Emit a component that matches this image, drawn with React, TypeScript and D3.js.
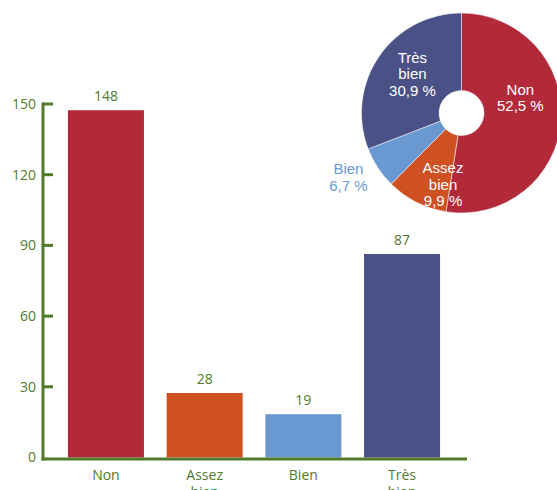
import { useRef, useEffect } from "react";
import * as d3 from "d3";

const CATEGORIES = ["Non", "Assez bien", "Bien", "Très bien"];
const COUNTS = [148, 28, 19, 87];
const PERCENT_LABELS = ["52,5 %", "9,9 %", "6,7 %", "30,9 %"];
const Y_TICKS = [0, 30, 60, 90, 120, 150];

const COLORS = ["#b22a3a", "#cf5122", "#6a99d1", "#4a5186"];
const GREEN = "#527a2a";
const FONT = "'Open Sans', sans-serif";
const PIE_FONT = "'Liberation Sans', Arial, sans-serif";
const WIDTH = 557;
const HEIGHT = 490;

// manual nudges for the pie labels (designer placed them by hand)
const PIE_LABEL_LAYOUT = [
  { r: 60, dx: -1, dy: -20, color: "#fff" },
  { r: 72, dx: 14, dy: 7, color: "#fff" },
  { r: 128, dx: -6, dy: -6, color: COLORS[2] },
  { r: 62, dx: 2, dy: -4, color: "#fff" },
];

export default function App() {
  const svgRef = useRef<SVGSVGElement>(null);

  useEffect(() => {
    const svg = svgRef.current;
    if (!svg) return;
    const root = d3.select(svg);
    root.selectAll("*").remove();

    // ---- bar chart ----
    const axisX = 43;
    const axisY = 459;
    const x = d3
      .scaleBand<string>()
      .domain(CATEGORIES)
      .range([56.6, 451.4])
      .paddingInner(0.23)
      .paddingOuter(0.115);
    const y = d3.scaleLinear().domain([0, 150]).range([457.5, 104]);

    const g = root.append("g");

    g.selectAll("rect.bar")
      .data(COUNTS)
      .join("rect")
      .attr("class", "bar")
      .attr("x", (_, i) => x(CATEGORIES[i])!)
      .attr("y", (d) => y(d) + 1.5)
      .attr("width", x.bandwidth())
      .attr("height", (d) => y(0) - y(d) - 1.5)
      .attr("fill", (_, i) => COLORS[i]);

    // value labels
    g.selectAll("text.val")
      .data(COUNTS)
      .join("text")
      .attr("class", "val")
      .attr("x", (_, i) => x(CATEGORIES[i])! + x.bandwidth() / 2)
      .attr("y", (d) => y(d) - 12.5)
      .attr("dy", "0.35em")
      .attr("text-anchor", "middle")
      .attr("fill", GREEN)
      .attr("font-family", FONT)
      .attr("font-size", 14)
      .text((d) => d.toString());

    // y axis
    g.append("line")
      .attr("x1", axisX)
      .attr("x2", axisX)
      .attr("y1", y(150) - 1.5)
      .attr("y2", axisY + 1.5)
      .attr("stroke", GREEN)
      .attr("stroke-width", 3);
    for (const t of Y_TICKS) {
      if (t > 0) {
        g.append("line")
          .attr("x1", axisX)
          .attr("x2", 53)
          .attr("y1", y(t))
          .attr("y2", y(t))
          .attr("stroke", GREEN)
          .attr("stroke-width", 3);
      }
      g.append("text")
        .attr("x", 36)
        .attr("y", t === 0 ? axisY - 2 : y(t))
        .attr("dy", "0.35em")
        .attr("text-anchor", "end")
        .attr("fill", GREEN)
        .attr("font-family", FONT)
        .attr("font-size", 14)
        .text(t.toString());
    }

    // x axis
    g.append("line")
      .attr("x1", axisX - 1.5)
      .attr("x2", 467)
      .attr("y1", axisY)
      .attr("y2", axisY)
      .attr("stroke", GREEN)
      .attr("stroke-width", 3);

    CATEGORIES.forEach((c) => {
      const words = c.split(" ");
      const cxl = x(c)! + x.bandwidth() / 2;
      const t = g
        .append("text")
        .attr("text-anchor", "middle")
        .attr("fill", GREEN)
        .attr("font-family", FONT)
        .attr("font-size", 14);
      words.forEach((w, wi) => {
        t.append("tspan")
          .attr("x", cxl)
          .attr("y", 475 + wi * 17)
          .attr("dy", "0.35em")
          .text(w);
      });
    });

    // ---- pie ----
    const cx = 461.5;
    const cy = 113;
    const pg = root.append("g").attr("transform", `translate(${cx},${cy})`);
    const pie = d3.pie<number>().sort(null).value((d) => d);
    const arcs = pie(COUNTS);
    const arc = d3.arc<d3.PieArcDatum<number>>().innerRadius(22.5).outerRadius(100);

    pg.selectAll("path")
      .data(arcs)
      .join("path")
      .attr("d", arc)
      .attr("fill", (_, i) => COLORS[i])
      .attr("stroke", "#fff")
      .attr("stroke-width", 0.5);

    arcs.forEach((a, i) => {
      const lay = PIE_LABEL_LAYOUT[i];
      const mid = (a.startAngle + a.endAngle) / 2;
      const lx = Math.sin(mid) * lay.r + lay.dx;
      const ly = -Math.cos(mid) * lay.r + lay.dy;
      const lines = [...CATEGORIES[i].split(" "), PERCENT_LABELS[i]];
      const t = pg
        .append("text")
        .attr("text-anchor", "middle")
        .attr("fill", lay.color)
        .attr("font-family", PIE_FONT)
        .attr("font-size", 15);
      const lh = 16.5;
      const top = ly - ((lines.length - 1) * lh) / 2;
      lines.forEach((l, li) => {
        t.append("tspan")
          .attr("x", lx)
          .attr("y", top + li * lh)
          .attr("dy", "0.35em")
          .text(l);
      });
    });
  }, []);

  return (
    <div style={{ position: "fixed", left: 0, top: 0, width: WIDTH, height: HEIGHT, background: "#fff" }}>
      <svg ref={svgRef} width={WIDTH} height={HEIGHT} style={{ display: "block" }} />
    </div>
  );
}
